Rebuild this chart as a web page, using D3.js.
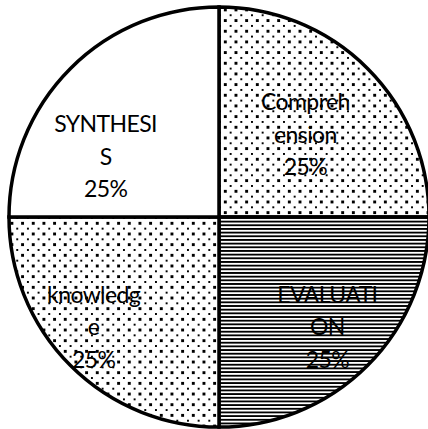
<!DOCTYPE html>
<html>
<head>
<meta charset="utf-8">
<script src="https://cdn.jsdelivr.net/npm/d3@7"></script>
<style>
  html, body { margin: 0; padding: 0; background: #fff; }
  svg { display: block; }
  .label { font-family: Lato, "Open Sans", sans-serif; font-size: 23px; letter-spacing: -0.6px; fill: #000; }
</style>
</head>
<body>
<svg id="chart" width="428" height="429"></svg>
<script>
// Four equal slices, clockwise from 12 o'clock
var categories = ["Comprehension", "EVALUATION", "knowledge", "SYNTHESIS"];
var shares = [25, 25, 25, 25];
// label lines as wrapped in the original (text box too narrow for the words)
var labelLines = [
  ["Compreh", "ension", "25%"],
  ["EVALUATI", "ON", "25%"],
  ["knowledg", "e", "25%"],
  ["SYNTHESI", "S", "25%"]
];

var width = 428, height = 429;
var cx = 219, cy = 217, radius = 210;
var lineHeight = 32.5;

var svg = d3.select("#chart");
var defs = svg.append("defs");

// dotted fill, staggered rows
var dots = function (id, w, h) {
  var p = defs.append("pattern").attr("id", id)
    .attr("patternUnits", "userSpaceOnUse")
    .attr("width", w).attr("height", h);
  p.append("rect").attr("width", w).attr("height", h).attr("fill", "#fff");
  [[0, 0], [w / 2, h / 2]].forEach(function (d) {
    p.append("rect").attr("x", d[0]).attr("y", d[1])
      .attr("width", 2).attr("height", 2).attr("fill", "#000")
      .attr("shape-rendering", "crispEdges");
  });
};
dots("dotsA", 10.67, 10.67);
dots("dotsB", 10.67, 10.67);

// horizontal stripes
var stripes = defs.append("pattern").attr("id", "stripes")
  .attr("patternUnits", "userSpaceOnUse")
  .attr("width", 8).attr("height", 3.67);
stripes.append("rect").attr("width", 8).attr("height", 3.67).attr("fill", "#fff");
stripes.append("rect").attr("width", 8).attr("height", 2.2).attr("fill", "#000")
  .attr("shape-rendering", "crispEdges");

var fills = ["url(#dotsA)", "url(#stripes)", "url(#dotsB)", "#fff"];

svg.append("rect").attr("width", width).attr("height", height).attr("fill", "#fff");

var pie = d3.pie().sort(null).value(function (d) { return d; });
var arcs = pie(shares);
var arc = d3.arc().innerRadius(0).outerRadius(radius);
var labelArc = d3.arc().innerRadius(radius * 0.73).outerRadius(radius * 0.73);

// small per-slice nudges so the text sits where the original put it
var nudge = {
  Comprehension: [-22, 26],
  EVALUATION: [0, 2],
  knowledge: [-17, 2],
  SYNTHESIS: [-5, 48]
};

var g = svg.append("g").attr("transform", "translate(" + cx + "," + cy + ")");

g.selectAll("path.slice")
  .data(arcs)
  .enter().append("path")
  .attr("class", "slice")
  .attr("d", arc)
  .attr("fill", function (d, i) { return fills[i]; })
  .attr("stroke", "#000")
  .attr("stroke-width", 3.5)
  .attr("stroke-linejoin", "miter");

var labels = g.selectAll("text.label")
  .data(arcs)
  .enter().append("text")
  .attr("class", "label")
  .attr("text-anchor", "middle")
  .attr("transform", function (d, i) {
    var c = labelArc.centroid(d);
    var n = nudge[categories[i]];
    return "translate(" + (c[0] + n[0]) + "," + (c[1] + n[1]) + ")";
  });

labels.selectAll("tspan")
  .data(function (d, i) { return labelLines[i]; })
  .enter().append("tspan")
  .attr("x", 0)
  .attr("y", function (d, j) { return (j - 1) * lineHeight; })
  .attr("dy", "0.35em")
  .text(function (d) { return d; });
</script>
</body>
</html>
